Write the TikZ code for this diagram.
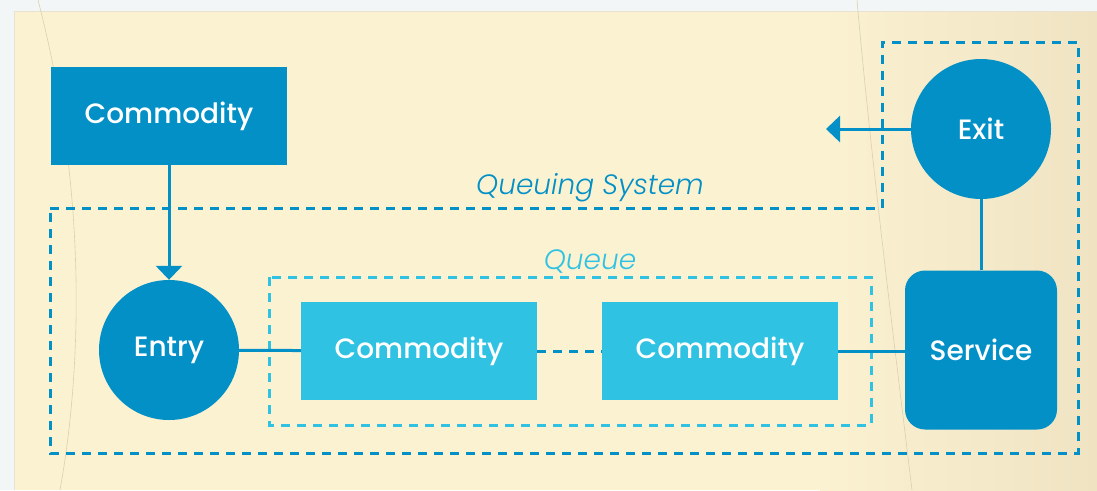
\documentclass[tikz,border=0pt]{standalone}
\usepackage{fontspec}
\setmainfont{Poppins}[UprightFont=* Medium,ItalicFont=* Light Italic]
\usepackage{xcolor}
\usetikzlibrary{arrows.meta}

\definecolor{deepblue}{HTML}{0290C6}
\definecolor{skyblue}{HTML}{30C2E2}
\definecolor{cream}{HTML}{FBF2D2}
\definecolor{sand}{HTML}{EFE3C2}
\definecolor{paperline}{HTML}{DCCFB0}
\definecolor{margin}{HTML}{F3F6F6}

\begin{document}
\begin{tikzpicture}[x=1pt,y=-1pt]
    \tikzstyle{C}=[circle,fill=deepblue,text=white,minimum size=140pt,inner sep=0pt,font=\fontsize{28}{32}\selectfont]
    \tikzstyle{B}=[rectangle,fill=deepblue,text=white,minimum width=236pt,minimum height=98pt,inner sep=0pt,font=\fontsize{28}{32}\selectfont]
    \tikzstyle{Q}=[B,fill=skyblue]
    \tikzstyle{S}=[B,rounded corners=20pt,minimum width=152pt,minimum height=159pt]
    \tikzstyle{W}=[draw=deepblue,line width=3pt]
    \tikzstyle{Z}=[line width=3pt,dash pattern=on 9pt off 7pt]

   % paper
   \useasboundingbox (0,0) rectangle (1097,490);
   \fill [margin] (0,0) rectangle (1097,490);
   \fill [cream] (14,11) rectangle (1097,490);
   \shade [left color=cream,right color=sand] (820,11) rectangle (1097,490);
   \draw [paperline!60,line width=1pt] (14,490) -- (14,11) -- (1097,11);
   \draw [paperline,line width=0.6pt] (38,0) .. controls (90,200) and (80,380) .. (60,490);
   \draw [paperline,line width=0.6pt] (857,0) .. controls (870,150) and (895,350) .. (912,490);

   % nodes
   \node [B] (source) at (169,116) {Commodity};
   \node [C] (entry) at (169,350) {Entry};
   \node [Q] (first) at (419,351) {Commodity};
   \node [Q] (last) at (720,351) {Commodity};
   \node [S] (service) at (981,350) {Service};
   \node [C] (exit) at (981,129) {Exit};
   \coordinate (out) at (826,129);

   \node [text=deepblue,font=\fontsize{28}{32}\selectfont\itshape] (system) at (590,188) {Queuing System};
   \node [text=skyblue,font=\fontsize{28}{32}\selectfont\itshape] (queue) at (590,262) {Queue};

   % boxes
   \draw [Z,draw=deepblue] (50,208) -- (882,208) -- (882,42) -- (1078,42) -- (1078,453) -- (50,453) -- cycle;
   \draw [Z,draw=skyblue] (269,277) rectangle (871,425);

   % links
   \draw [W,-{Triangle[length=14pt,width=26pt]}] (source) -- (entry);
   \draw [W,-{Triangle[length=14pt,width=26pt]}] (exit) -- (out);
   \draw [W] (entry) -- (first);
   \draw [W,dash pattern=on 9pt off 7pt] (first) -- (last);
   \draw [W] (last) -- (last -| service.west);
   \draw [W] (service) -- (exit);
\end{tikzpicture}
\end{document}
